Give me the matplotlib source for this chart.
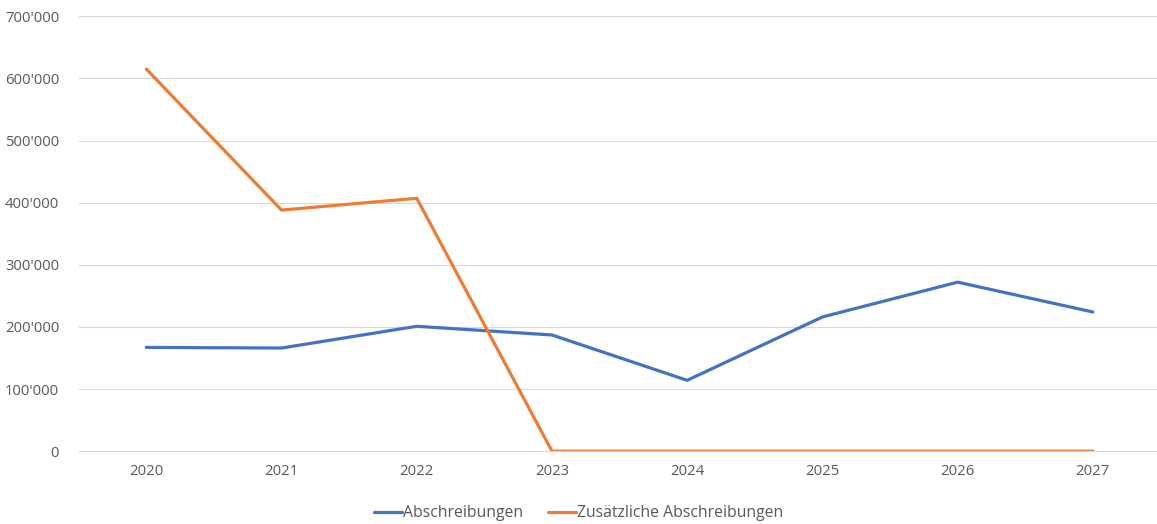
import matplotlib.pyplot as plt
from matplotlib.ticker import FuncFormatter

years = ["2020", "2021", "2022", "2023", "2024", "2025", "2026", "2027"]
abschreibungen = [167000, 166000, 201000, 187000, 114000, 216000, 272000, 224000]
zusaetzliche = [615000, 388000, 407000, 0, 0, 0, 0, 0]

plt.rcParams['font.family'] = ['Open Sans', 'DejaVu Sans']

fig = plt.figure(figsize=(11.57, 5.24), dpi=100)
ax = fig.add_axes([0.068, 0.139, 0.935, 0.830])

x = list(range(len(years)))
ax.plot(x, abschreibungen, color='#4472C4', lw=2.3, label='Abschreibungen', solid_capstyle='round')
ax.plot(x, zusaetzliche, color='#ED7D31', lw=2.3, label='Zusätzliche Abschreibungen', solid_capstyle='round')

ax.set_xlim(-0.5, len(years) - 0.5)
ax.set_ylim(0, 700000)
ax.set_yticks(range(0, 700001, 100000))
ax.yaxis.set_major_formatter(FuncFormatter(lambda v, p: f"{int(v):,}".replace(",", "'")))
ax.set_xticks(x)
ax.set_xticklabels(years)

ax.grid(axis='y', color='#D9D9D9', lw=0.8)
ax.set_axisbelow(True)
for s in ['top', 'right', 'left']:
    ax.spines[s].set_visible(False)
ax.spines['bottom'].set_color('#D9D9D9')
ax.tick_params(length=0, colors='#595959', labelsize=10.7)
ax.tick_params(axis='y', pad=14)
ax.tick_params(axis='x', pad=9)

fig.legend(loc='center', bbox_to_anchor=(0.5, 0.021), ncol=2, frameon=False,
           fontsize=11.3, labelcolor='#595959', handlelength=1.8, handletextpad=0.05,
           columnspacing=1.6)

fig.savefig('out.png', dpi=100)
